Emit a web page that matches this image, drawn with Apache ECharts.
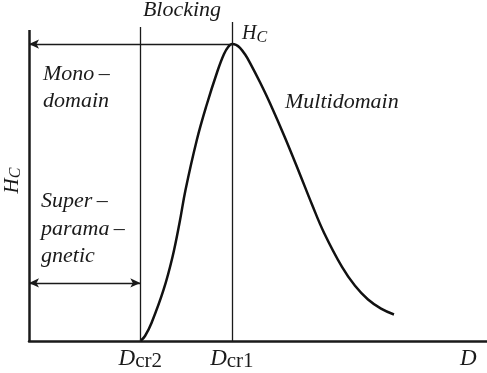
<!DOCTYPE html>
<html>
<head>
<meta charset="utf-8">
<script src="https://cdn.jsdelivr.net/npm/echarts@6/dist/echarts.min.js"></script>
<style>
html,body{margin:0;padding:0;background:#fff;}
#chart{width:487px;height:373px;}
</style>
</head>
<body>
<div id="chart"></div>
<script>
// ---- data (arbitrary units: D 0..100, Hc 0..100) ----
const xMax = 100;
const yMax = 100;
const Dcr2 = 24.3;
const Dcr1 = 44.3;
const HcPeak = 92.5;
const curveD = [24.34, 25.33, 26.75, 29.37, 31.33, 32.86, 34.17, 36.64, 38.65, 41.16, 42.58, 43.56, 44.32, 45.20, 46.07, 47.16, 48.25, 50.44, 52.62, 55.90, 59.17, 61.79, 64.41, 68.34, 71.18, 74.02, 76.86, 79.69];
const curveH = [0.0, 1.56, 5.61, 15.89, 26.17, 36.76, 47.04, 62.62, 72.90, 84.11, 89.41, 91.74, 92.52, 92.27, 91.34, 89.31, 86.67, 80.59, 74.05, 63.30, 51.87, 42.52, 33.74, 23.08, 17.20, 12.93, 10.09, 8.26];
const axisTop = 96.9;              // top of the H_C axis line
const dividerTops = [97.8, 99.4];  // tops of the D_cr2 and D_cr1 lines
const superArrowH = 18.1;          // level of the superparamagnetic range arrow
const xTickValues = [24.3, 44.3, 96.5];
const xTickMain = ['D', 'D', 'D'];
const xTickSub = ['cr2', 'cr1', ' '];

const ink = '#1a1a1a';
const serif = '"Liberation Serif", "Times New Roman", serif';

const chart = echarts.init(document.getElementById('chart'), null, {renderer: 'canvas'});

const curve = curveD.map((d, i) => [d, curveH[i]]);

const option = {
  animation: false,
  grid: {left: 29, right: 0, top: 20, bottom: 32, outerBoundsMode: 'none', containLabel: false},
  xAxis: {
    type: 'value', min: 0, max: xMax,
    axisLine: {show: true, lineStyle: {color: ink, width: 2.5}},
    axisTick: {show: false},
    splitLine: {show: false},
    axisLabel: {
      customValues: xTickValues,
      margin: 5,
      formatter: function (v) {
        let idx = 0;
        xTickValues.forEach((t, i) => { if (Math.abs(t - v) < 1e-6) idx = i; });
        return '{d|' + xTickMain[idx] + '}{s|' + xTickSub[idx] + '}';
      },
      rich: {
        d: {fontFamily: serif, fontStyle: 'italic', fontSize: 23, color: ink},
        s: {fontFamily: serif, fontSize: 21, color: ink, padding: [5, 0, 0, 0]}
      }
    }
  },
  yAxis: {
    type: 'value', min: 0, max: yMax,
    axisLine: {show: false},
    axisTick: {show: false},
    axisLabel: {show: false},
    splitLine: {show: false},
    name: '{h|H}{c|C}',
    nameLocation: 'middle',
    nameRotate: 90,
    nameGap: 5,
    nameTextStyle: {
      rich: {
        h: {fontFamily: serif, fontStyle: 'italic', fontSize: 21, color: ink},
        c: {fontFamily: serif, fontStyle: 'italic', fontSize: 16, color: ink, padding: [7, 0, 0, 0]}
      }
    }
  },
  series: [
    {
      type: 'line',
      data: curve,
      smooth: 0.4,
      symbol: 'none',
      lineStyle: {color: '#111', width: 2.5},
      silent: true,
      markLine: {
        silent: true,
        symbol: 'none',
        label: {show: false},
        lineStyle: {type: 'solid', color: ink, width: 1.3},
        data: [
          [{coord: [0, 0], lineStyle: {width: 2.5, type: 'solid', color: ink}}, {coord: [0, axisTop]}],
          [{coord: [Dcr2, 0]}, {coord: [Dcr2, dividerTops[0]]}],
          [{coord: [Dcr1, 0]}, {coord: [Dcr1, dividerTops[1]]}],
          [{coord: [Dcr1, HcPeak], symbol: 'none'},
           {coord: [0, HcPeak], symbol: 'arrow', symbolSize: [7, 10]}],
          [{coord: [0, superArrowH], symbol: 'arrow', symbolSize: [7, 10]},
           {coord: [Dcr2, superArrowH], symbol: 'arrow', symbolSize: [7, 10]}]
        ]
      }
    }
  ],
  graphic: [
    {type: 'text', x: 182, y: 10.3, silent: true,
     style: {text: 'Blocking', font: 'italic 22px ' + serif, fill: ink, align: 'center', verticalAlign: 'middle'}},
    {type: 'text', x: 242, y: 22, silent: true,
     style: {text: '{h|H}{c|C}', fill: ink, align: 'left', verticalAlign: 'top',
       rich: {
         h: {fontFamily: serif, fontStyle: 'italic', fontSize: 20, fill: ink},
         c: {fontFamily: serif, fontStyle: 'italic', fontSize: 16, fill: ink, padding: [8, 0, 0, 0]}
       }}},
    {type: 'text', x: 43, y: 60.8, silent: true,
     style: {text: 'Mono\u2009\u2013\ndomain', font: 'italic 22px ' + serif, fill: ink, lineHeight: 27, align: 'left', verticalAlign: 'top'}},
    {type: 'text', x: 285, y: 102.3, silent: true,
     style: {text: 'Multidomain', font: 'italic 22px ' + serif, fill: ink, align: 'left', verticalAlign: 'middle'}},
    {type: 'text', x: 41, y: 187.5, silent: true,
     style: {text: 'Super\u2009\u2013\nparama\u2009\u2013\ngnetic', font: 'italic 22px ' + serif, fill: ink, lineHeight: 27.5, align: 'left', verticalAlign: 'top'}}
  ]
};
chart.setOption(option);
</script>
</body>
</html>
